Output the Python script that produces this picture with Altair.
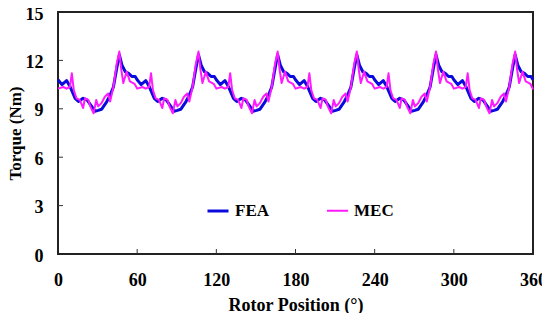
import altair as alt
import pandas as pd

# FEA series (rotor position in degrees, torque in Nm)
fea_x = [0, 3, 6.5, 9, 13, 15.5, 19, 22, 25.5, 28, 30.5, 33, 37, 39.5, 42, 44.5, 46.5, 48.5, 51, 53.5, 56, 58.5,
         60, 63, 66.5, 69, 73, 75.5, 79, 82, 85.5, 88, 90.5, 93, 97, 99.5, 102, 104.5, 106.5, 108.5, 111, 113.5, 116, 118.5,
         120, 123, 126.5, 129, 133, 135.5, 139, 142, 145.5, 148, 150.5, 153, 157, 159.5, 162, 164.5, 166.5, 168.5, 171, 173.5, 176, 178.5,
         180, 183, 186.5, 189, 193, 195.5, 199, 202, 205.5, 208, 210.5, 213, 217, 219.5, 222, 224.5, 226.5, 228.5, 231, 233.5, 236, 238.5,
         240, 243, 246.5, 249, 253, 255.5, 259, 262, 265.5, 268, 270.5, 273, 277, 279.5, 282, 284.5, 286.5, 288.5, 291, 293.5, 296, 298.5,
         300, 303, 306.5, 309, 313, 315.5, 319, 322, 325.5, 328, 330.5, 333, 337, 339.5, 342, 344.5, 346.5, 348.5, 351, 353.5, 356, 358.5,
         360]
fea_y = [10.8, 10.5, 10.75, 10.4, 9.65, 9.45, 9.65, 9.55, 9.15, 8.85, 8.9, 8.97, 9.45, 9.85, 10.35, 11.5, 12.35, 11.7, 11.3, 11.2, 11.0, 11.0,
         10.8, 10.5, 10.75, 10.4, 9.65, 9.45, 9.65, 9.55, 9.15, 8.85, 8.9, 8.97, 9.45, 9.85, 10.35, 11.5, 12.35, 11.7, 11.3, 11.2, 11.0, 11.0,
         10.8, 10.5, 10.75, 10.4, 9.65, 9.45, 9.65, 9.55, 9.15, 8.85, 8.9, 8.97, 9.45, 9.85, 10.35, 11.5, 12.35, 11.7, 11.3, 11.2, 11.0, 11.0,
         10.8, 10.5, 10.75, 10.4, 9.65, 9.45, 9.65, 9.55, 9.15, 8.85, 8.9, 8.97, 9.45, 9.85, 10.35, 11.5, 12.35, 11.7, 11.3, 11.2, 11.0, 11.0,
         10.8, 10.5, 10.75, 10.4, 9.65, 9.45, 9.65, 9.55, 9.15, 8.85, 8.9, 8.97, 9.45, 9.85, 10.35, 11.5, 12.35, 11.7, 11.3, 11.2, 11.0, 11.0,
         10.8, 10.5, 10.75, 10.4, 9.65, 9.45, 9.65, 9.55, 9.15, 8.85, 8.9, 8.97, 9.45, 9.85, 10.35, 11.5, 12.35, 11.7, 11.3, 11.2, 11.0, 11.0,
         10.8]

# MEC series
mec_x = [0, 4, 6.5, 9, 10.5, 12, 14, 16.5, 19, 20.5, 23, 24.5, 27, 29, 30.5, 33, 35.5, 38, 39.5, 42, 44.5, 46.5, 48, 49.5, 52, 54.5, 58,
         60, 64, 66.5, 69, 70.5, 72, 74, 76.5, 79, 80.5, 83, 84.5, 87, 89, 90.5, 93, 95.5, 98, 99.5, 102, 104.5, 106.5, 108, 109.5, 112, 114.5, 118,
         120, 124, 126.5, 129, 130.5, 132, 134, 136.5, 139, 140.5, 143, 144.5, 147, 149, 150.5, 153, 155.5, 158, 159.5, 162, 164.5, 166.5, 168, 169.5, 172, 174.5, 178,
         180, 184, 186.5, 189, 190.5, 192, 194, 196.5, 199, 200.5, 203, 204.5, 207, 209, 210.5, 213, 215.5, 218, 219.5, 222, 224.5, 226.5, 228, 229.5, 232, 234.5, 238,
         240, 244, 246.5, 249, 250.5, 252, 254, 256.5, 259, 260.5, 263, 264.5, 267, 269, 270.5, 273, 275.5, 278, 279.5, 282, 284.5, 286.5, 288, 289.5, 292, 294.5, 298,
         300, 304, 306.5, 309, 310.5, 312, 314, 316.5, 319, 320.5, 323, 324.5, 327, 329, 330.5, 333, 335.5, 338, 339.5, 342, 344.5, 346.5, 348, 349.5, 352, 354.5, 358,
         360]
mec_y = [10.25, 10.35, 10.25, 10.35, 11.2, 10.15, 9.65, 9.55, 9.05, 9.65, 9.55, 9.15, 8.72, 9.55, 9.15, 9.35, 9.75, 9.95, 9.45, 10.35, 11.8, 12.55, 11.4, 10.6, 11.3, 10.7, 10.55,
         10.25, 10.35, 10.25, 10.35, 11.2, 10.15, 9.65, 9.55, 9.05, 9.65, 9.55, 9.15, 8.72, 9.55, 9.15, 9.35, 9.75, 9.95, 9.45, 10.35, 11.8, 12.55, 11.4, 10.6, 11.3, 10.7, 10.55,
         10.25, 10.35, 10.25, 10.35, 11.2, 10.15, 9.65, 9.55, 9.05, 9.65, 9.55, 9.15, 8.72, 9.55, 9.15, 9.35, 9.75, 9.95, 9.45, 10.35, 11.8, 12.55, 11.4, 10.6, 11.3, 10.7, 10.55,
         10.25, 10.35, 10.25, 10.35, 11.2, 10.15, 9.65, 9.55, 9.05, 9.65, 9.55, 9.15, 8.72, 9.55, 9.15, 9.35, 9.75, 9.95, 9.45, 10.35, 11.8, 12.55, 11.4, 10.6, 11.3, 10.7, 10.55,
         10.25, 10.35, 10.25, 10.35, 11.2, 10.15, 9.65, 9.55, 9.05, 9.65, 9.55, 9.15, 8.72, 9.55, 9.15, 9.35, 9.75, 9.95, 9.45, 10.35, 11.8, 12.55, 11.4, 10.6, 11.3, 10.7, 10.55,
         10.25, 10.35, 10.25, 10.35, 11.2, 10.15, 9.65, 9.55, 9.05, 9.65, 9.55, 9.15, 8.72, 9.55, 9.15, 9.35, 9.75, 9.95, 9.45, 10.35, 11.8, 12.55, 11.4, 10.6, 11.3, 10.7, 10.55,
         10.2]

series_names = ["FEA", "MEC"]
series_colors = ["#0A0ADC", "#FF1AFF"]
series_widths = [3, 2]

x_ticks = [0, 60, 120, 180, 240, 300, 360]
y_ticks = [0, 3, 6, 9, 12, 15]
x_inner_ticks = [60, 120, 180, 240, 300]
y_inner_ticks = [3, 6, 9, 12]

df = pd.concat([
    pd.DataFrame({"pos": fea_x, "torque": fea_y, "series": "FEA"}),
    pd.DataFrame({"pos": mec_x, "torque": mec_y, "series": "MEC"}),
], ignore_index=True)

W, H = 475, 242
FONT = "Liberation Serif"

legend = alt.Legend(
    title=None, orient="none", legendX=148, legendY=187, direction="horizontal",
    symbolType="stroke", symbolSize=441, labelFont=FONT, labelFontSize=17,
    labelFontWeight="bold", labelColor="black", columnPadding=54, labelOffset=5,
    padding=0,
)

xscale = alt.Scale(domain=[0, 360], nice=False, zero=False)
yscale = alt.Scale(domain=[0, 15], nice=False)

lines = alt.Chart(df).mark_line(strokeJoin="round").encode(
    x=alt.X("pos:Q", scale=xscale, axis=alt.Axis(
        values=x_ticks, title="Rotor Position (°)", ticks=False, grid=False, domain=False,
        labelPadding=17, titlePadding=7, labelFontSize=18, titleFontSize=18,
        labelFont=FONT, titleFont=FONT, labelFontWeight="bold", titleFontWeight="bold",
        labelColor="black", titleColor="black", labelFlush=False)),
    y=alt.Y("torque:Q", scale=yscale, axis=alt.Axis(
        values=y_ticks, title="Torque (Nm)", ticks=False, grid=False, domain=False,
        labelPadding=15, titlePadding=1, labelFontSize=18, titleFontSize=17, labelOffset=2,
        labelFont=FONT, titleFont=FONT, labelFontWeight="bold", titleFontWeight="bold",
        labelColor="black", titleColor="black", labelFlush=False)),
    color=alt.Color("series:N", scale=alt.Scale(domain=series_names, range=series_colors), legend=legend),
    strokeWidth=alt.StrokeWidth("series:N", scale=alt.Scale(domain=series_names, range=series_widths), legend=legend),
)

xt = alt.Chart(pd.DataFrame({"v": x_inner_ticks})).mark_rule(color="#333", strokeWidth=1).encode(
    x=alt.X("v:Q", scale=xscale), y=alt.value(H), y2=alt.value(H - 5))
yt = alt.Chart(pd.DataFrame({"v": y_inner_ticks})).mark_rule(color="#333", strokeWidth=1).encode(
    y=alt.Y("v:Q", scale=yscale), x=alt.value(0), x2=alt.value(5))

chart = alt.layer(lines, xt, yt).properties(
    width=W, height=H,
    autosize=alt.AutoSizeParams(type="none"),
    padding={"left": 50, "top": 4, "right": 9, "bottom": 59},
).configure_view(stroke="#222", strokeWidth=2)

chart.save("out.html", embed_options={"renderer": "svg", "actions": False})
